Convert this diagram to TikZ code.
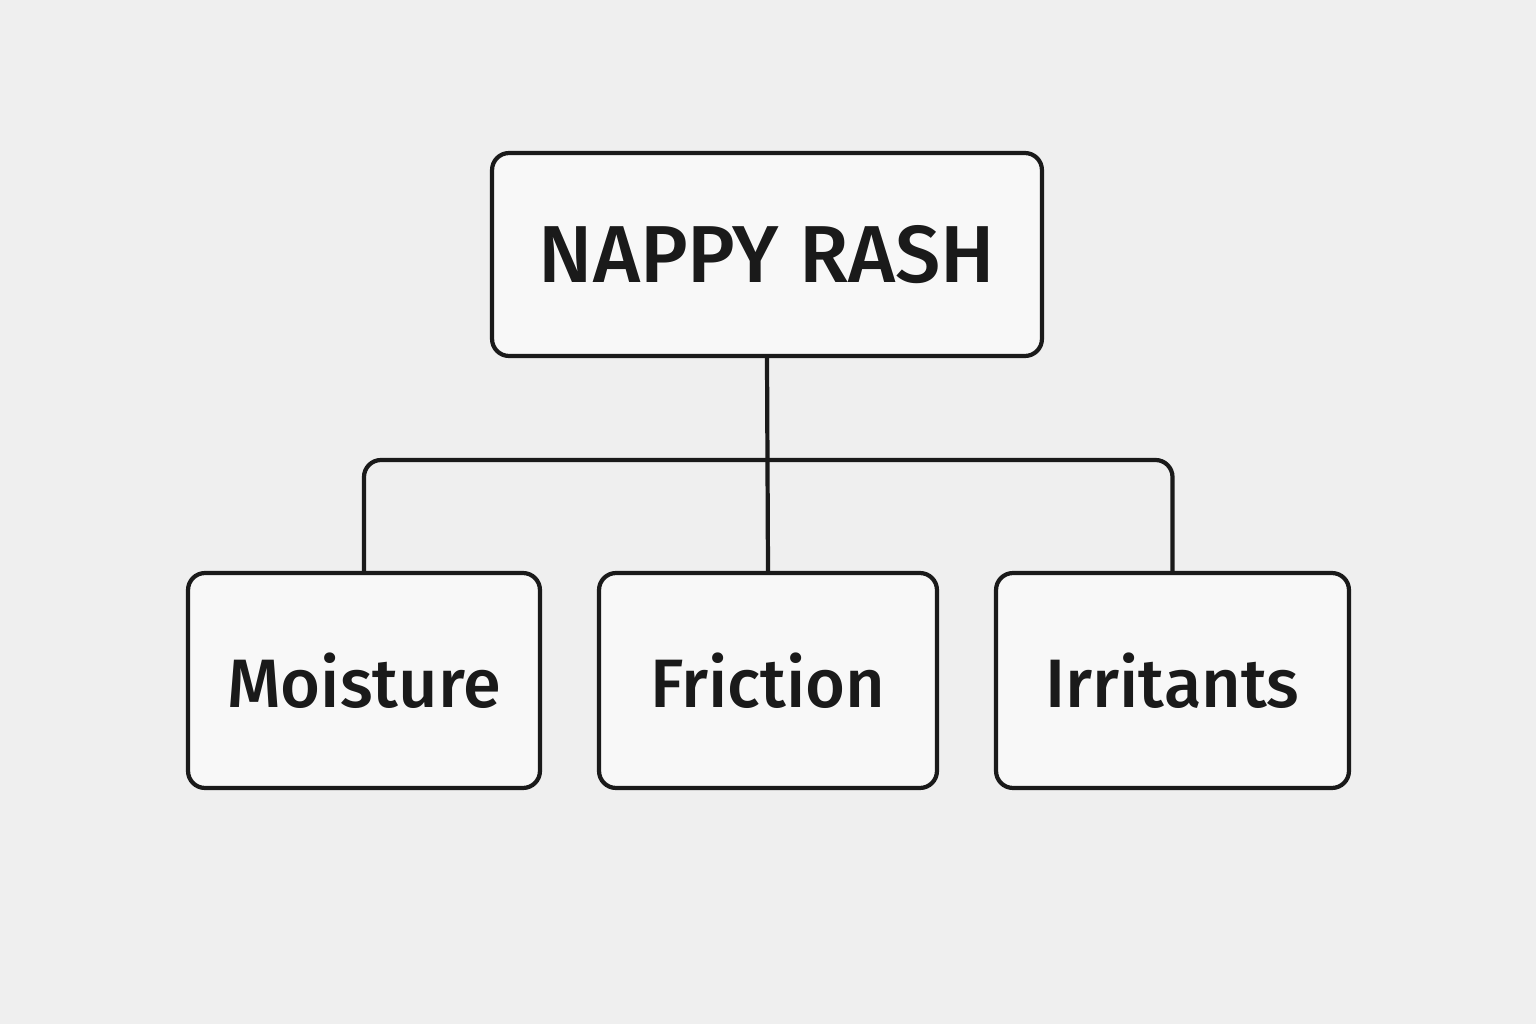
\documentclass[tikz,border=0pt]{standalone}
\usepackage{fontspec}
\setmainfont{Fira Sans}[UprightFont=* Medium]
\usepackage{tikz}
\definecolor{bg_grey}{RGB}{239, 239, 239}
\definecolor{box_white}{RGB}{248, 248, 248}
\definecolor{ink}{RGB}{26, 26, 26}
\tikzstyle{box}=[rectangle,rounded corners=0.34cm,fill=box_white,draw=ink,
  line width=2.4pt,inner sep=0pt,text=ink]
\tikzstyle{head}=[style=box,minimum width=11cm,minimum height=4.06cm,
  font=\fontsize{46}{50}\selectfont]
\tikzstyle{cause}=[style=box,minimum height=4.3cm,
  font=\fontsize{39}{44}\selectfont]
\tikzstyle{link}=[draw=ink,line width=2.4pt,rounded corners=0.34cm]

\begin{document}
\begin{tikzpicture}[x=0.02cm,y=-0.02cm]
            \fill [bg_grey] (0, 0) rectangle (1536, 1024);
            \useasboundingbox (0, 0) rectangle (1536, 1024);
            \node [style=head] (0) at (767, 254.5) {NAPPY RASH};
            \node [style=cause, minimum width=7.04cm] (1) at (364, 680.5) {Moisture};
            \node [style=cause, minimum width=6.76cm] (2) at (768, 680.5) {Friction};
            \node [style=cause, minimum width=7.06cm] (3) at (1172.5, 680.5) {Irritants};
            \coordinate (4) at (767, 460);
            \draw [style=link] (0.south) to (2.north);
            \draw [style=link] (1.north) |- (4) -| (3.north);
    \end{tikzpicture}
\end{document}
